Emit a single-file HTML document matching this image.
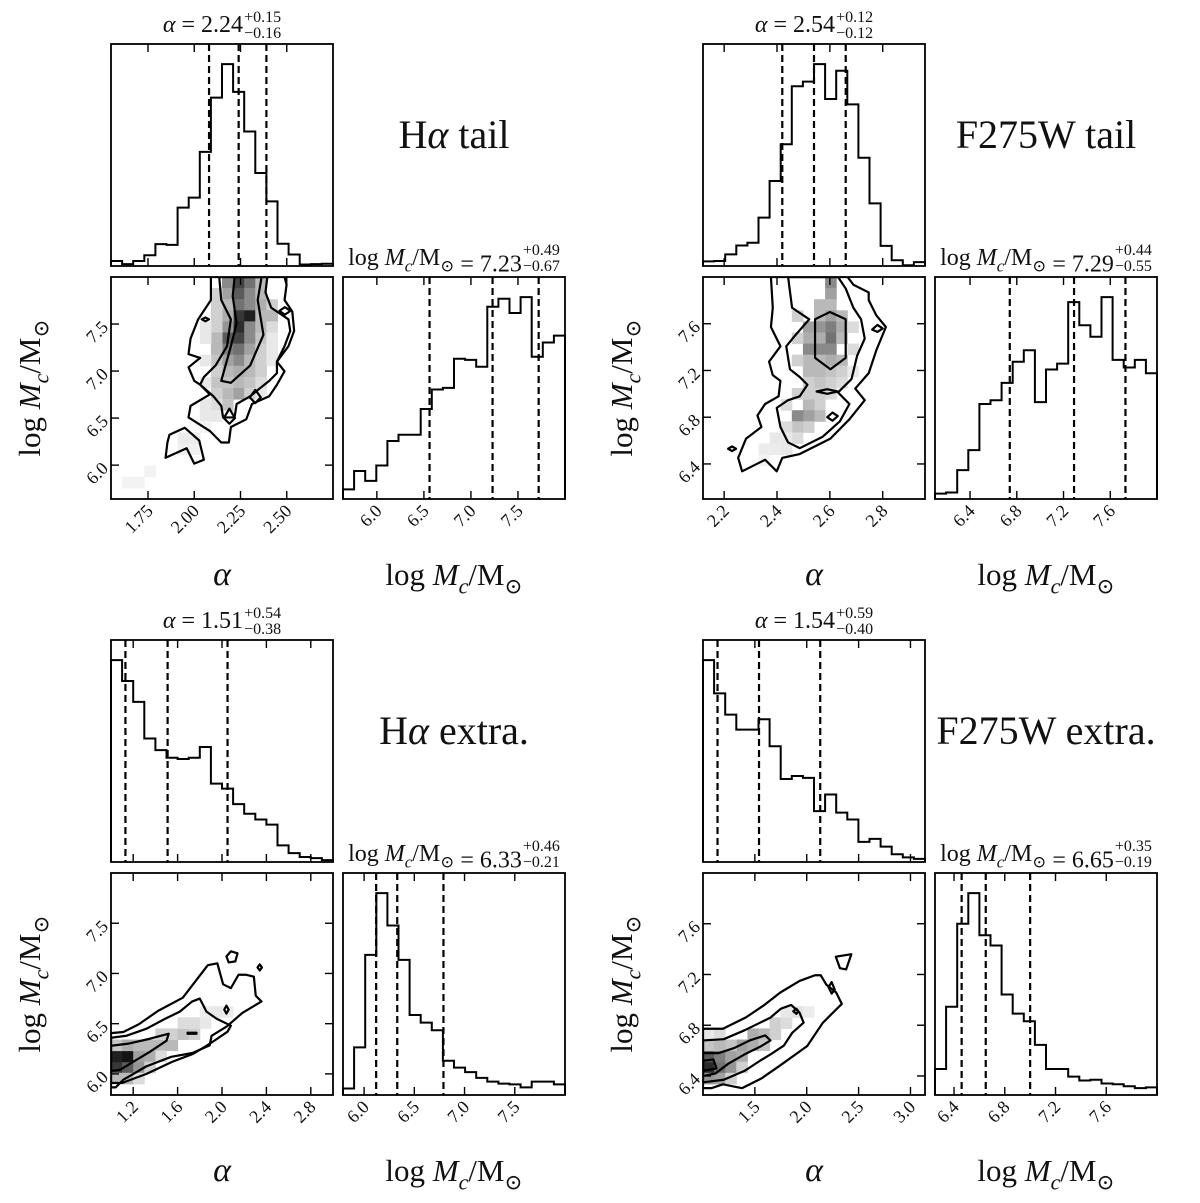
<!DOCTYPE html>
<html><head><meta charset="utf-8"><title>Corner plots</title>
<style>
html,body{margin:0;padding:0;background:#fff;}
svg{display:block;}
text{font-family:"Liberation Serif","DejaVu Serif",serif;fill:#111;}
</style></head>
<body>
<svg id="fig" width="1200" height="1203" viewBox="0 0 1200 1203"></svg>
<script>
// ---------- Data: Hα tail ----------
const tlAlphaRange=[1.55,2.75];
const tlMassRange=[5.64,8.0];
const tlAlphaTicks=[1.75,2.0,2.25,2.5];
const tlAlphaTickLabels=["1.75","2.00","2.25","2.50"];
const tlMassTicks=[6.0,6.5,7.0,7.5];
const tlMassTickLabels=["6.0","6.5","7.0","7.5"];
const tlAlphaHist=[13,5,13,28,57,55,152,178,297,438,525,453,350,242,168,58,30,4,5,6];
const tlMassHist=[25,73,47,87,151,167,167,234,285,289,365,362,344,500,521,484,525,370,407,425];
const tlAlphaQ=[2.08,2.24,2.39];
const tlMassQ=[6.56,7.23,7.72];
const tlCells=[[11,19,0.8],[11,18,0.7],[11,17,0.6],[11,16,0.85],[11,15,0.9],[11,14,0.8],[11,13,0.6],[11,12,0.5],[11,11,0.35],[11,10,0.3],[11,9,0.4],
[12,19,0.6],[12,18,0.5],[12,17,0.5],[12,16,0.95],[12,15,0.5],[12,14,0.5],[12,13,0.4],[12,12,0.3],[12,11,0.3],[12,10,0.25],[12,9,0.2],
[10,19,0.5],[10,18,0.4],[10,17,0.3],[10,16,0.35],[10,15,0.45],[10,14,0.7],[10,13,0.55],[10,12,0.4],[10,11,0.3],[10,10,0.25],[10,9,0.3],[10,8,0.25],
[9,18,0.2],[9,17,0.2],[9,16,0.2],[9,15,0.2],[9,14,0.3],[9,13,0.3],[9,12,0.25],[9,11,0.2],[9,10,0.25],[9,9,0.2],[9,8,0.15],[9,7,0.1],
[13,19,0.3],[13,18,0.3],[13,17,0.35],[13,16,0.3],[13,15,0.3],[13,14,0.25],[13,13,0.2],[13,12,0.2],[13,11,0.2],[13,10,0.15],[13,9,0.1],
[14,17,0.2],[14,16,0.3],[14,15,0.15],[14,14,0.1],[14,13,0.1],[14,12,0.1],
[8,15,0.1],[8,14,0.1],[8,12,0.1],[8,10,0.1],[8,8,0.1],[8,7,0.1],[8,6,0.05],[7,5,0.08],[6,4,0.06],[7,4,0.06],[6,5,0.08],[1,1,0.05],[2,1,0.05],[3,2,0.05]];
const tlContours=[
[[2.09,8.0],[2.09,7.755],[2.021,7.55],[1.98,7.345],[1.969,7.18],[2.032,7.14],[1.969,7.04],[2.0,6.896],[2.032,6.855],[2.084,6.752],[1.98,6.63],[1.969,6.507],[2.084,6.364],[2.146,6.241],[2.187,6.241],[2.198,6.405],[2.281,6.487],[2.312,6.65],[2.405,6.732],[2.447,6.855],[2.488,6.998],[2.447,7.1],[2.509,7.264],[2.54,7.427],[2.53,7.632],[2.488,7.755],[2.499,7.918],[2.488,8.0]],
[[2.135,8.0],[2.146,7.755],[2.198,7.55],[2.177,7.264],[2.115,7.059],[2.052,6.936],[2.032,6.855],[2.104,6.732],[2.146,6.63],[2.156,6.507],[2.218,6.507],[2.229,6.65],[2.302,6.732],[2.353,6.814],[2.405,6.896],[2.447,6.978],[2.447,7.1],[2.488,7.264],[2.519,7.427],[2.509,7.55],[2.416,7.673],[2.385,7.837],[2.395,8.0]],
[[2.218,8.0],[2.208,7.796],[2.229,7.509],[2.198,7.264],[2.146,6.896],[2.198,6.875],[2.302,7.059],[2.374,7.386],[2.343,7.755],[2.364,8.0]],
[[1.855,6.241],[1.845,6.078],[1.959,6.18],[2.0,6.016],[2.052,6.057],[2.027,6.262],[1.949,6.397],[1.866,6.323]],
[[2.04,7.55],[2.06,7.57],[2.08,7.55],[2.06,7.53]],
[[2.46,7.64],[2.49,7.68],[2.52,7.64],[2.49,7.60]],
[[2.30,6.72],[2.33,6.80],[2.36,6.72],[2.33,6.66]],
[[2.16,6.50],[2.19,6.60],[2.22,6.50],[2.19,6.44]]];

// ---------- Data: F275W tail ----------
const trAlphaRange=[2.12,2.96];
const trMassRange=[6.10,8.0];
const trAlphaTicks=[2.2,2.4,2.6,2.8];
const trAlphaTickLabels=["2.2","2.4","2.6","2.8"];
const trMassTicks=[6.4,6.8,7.2,7.6];
const trMassTickLabels=["6.4","6.8","7.2","7.6"];
const trAlphaHist=[12,13,30,53,60,125,220,315,465,477,522,432,505,418,280,162,52,15,2,10];
const trMassHist=[14,17,75,127,247,257,302,357,387,252,337,352,512,452,422,525,362,342,362,327];
const trAlphaQ=[2.42,2.54,2.66];
const trMassQ=[6.74,7.29,7.73];
const trCells=[[11,19,0.5],[11,18,0.4],[11,17,0.3],[11,16,0.4],[11,15,0.55],[11,14,0.6],[11,13,0.5],[11,12,0.35],[11,11,0.25],[11,10,0.2],
[10,17,0.3],[10,16,0.3],[10,15,0.45],[10,14,0.35],[10,13,0.5],[10,12,0.3],[10,11,0.3],[10,10,0.25],[10,8,0.2],[10,7,0.3],
[9,15,0.4],[9,14,0.35],[9,13,0.5],[9,12,0.3],[9,11,0.3],[9,10,0.2],[9,8,0.3],[9,7,0.4],[9,6,0.2],
[8,16,0.2],[8,14,0.2],[8,12,0.2],[8,9,0.2],[8,7,0.5],[8,6,0.25],[8,5,0.15],
[12,16,0.3],[12,15,0.35],[12,14,0.3],[12,12,0.3],[12,11,0.2],[12,10,0.15],[13,15,0.15],[13,13,0.15],[13,11,0.1],
[7,8,0.15],[7,6,0.15],[7,5,0.1],[7,4,0.1],[6,5,0.1],[6,4,0.08],[5,4,0.08],[5,3,0.05],[10,9,0.2],[9,9,0.2],[11,9,0.15]];
const trContours=[
[[2.377,8.0],[2.384,7.737],[2.377,7.572],[2.413,7.407],[2.37,7.276],[2.384,7.16],[2.413,7.111],[2.406,6.979],[2.355,6.913],[2.326,6.815],[2.341,6.716],[2.283,6.617],[2.253,6.452],[2.268,6.337],[2.355,6.436],[2.399,6.337],[2.42,6.452],[2.486,6.485],[2.602,6.617],[2.674,6.782],[2.732,6.946],[2.696,7.045],[2.747,7.177],[2.776,7.374],[2.812,7.572],[2.776,7.671],[2.747,7.802],[2.747,7.868],[2.689,7.934],[2.667,8.0]],
[[2.442,8.0],[2.457,7.737],[2.522,7.638],[2.471,7.506],[2.435,7.407],[2.449,7.21],[2.486,7.144],[2.515,7.078],[2.486,6.979],[2.442,6.946],[2.399,6.88],[2.413,6.716],[2.442,6.584],[2.486,6.535],[2.573,6.633],[2.638,6.765],[2.674,6.913],[2.631,7.012],[2.682,7.127],[2.703,7.325],[2.732,7.473],[2.718,7.638],[2.689,7.737],[2.66,7.901],[2.631,8.0]],
[[2.544,7.638],[2.544,7.308],[2.602,7.21],[2.66,7.308],[2.66,7.638],[2.60,7.70]],
[[2.55,7.02],[2.59,7.04],[2.63,7.02],[2.59,7.00]],
[[2.215,6.53],[2.23,6.55],[2.245,6.53],[2.23,6.51]],
[[2.76,7.55],[2.78,7.59],[2.80,7.56],[2.78,7.53]],
[[2.59,6.80],[2.61,6.84],[2.63,6.81],[2.61,6.77]]];

// ---------- Data: Hα extra. ----------
const blAlphaRange=[1.0,3.0];
const blMassRange=[5.79,8.0];
const blAlphaTicks=[1.2,1.6,2.0,2.4,2.8];
const blAlphaTickLabels=["1.2","1.6","2.0","2.4","2.8"];
const blMassTicks=[6.0,6.5,7.0,7.5];
const blMassTickLabels=["6.0","6.5","7.0","7.5"];
const blAlphaHist=[523,469,415,320,290,270,267,270,298,203,190,150,125,110,97,43,23,13,10,5];
const blMassHist=[17,125,368,530,445,355,210,190,170,90,72,60,45,35,30,28,20,35,35,28];
const blAlphaQ=[1.13,1.51,2.05];
const blMassQ=[6.12,6.33,6.79];
const blCells=[[0,2,0.85],[1,2,0.7],[0,3,0.95],[1,3,1.0],[0,1,0.3],[1,1,0.3],[2,2,0.45],[2,3,0.4],[0,4,0.25],[1,4,0.35],[2,4,0.3],[3,3,0.35],[3,4,0.3],[4,4,0.3],[5,4,0.3],[4,5,0.2],[5,5,0.2],[6,5,0.25],[7,5,0.2],[6,6,0.15],[7,6,0.15],[8,6,0.1],[9,7,0.1],[3,2,0.2],[4,3,0.15],[2,1,0.15],[10,7,0.08],[8,7,0.08]];
const blContours=[
[[1.0,6.406],[1.111,6.417],[1.249,6.493],[1.422,6.626],[1.647,6.759],[1.872,7.082],[1.958,7.101],[2.01,6.892],[2.08,6.854],[2.149,6.987],[2.218,6.987],[2.287,6.968],[2.304,6.778],[2.356,6.721],[2.183,6.607],[2.045,6.474],[1.906,6.379],[1.889,6.284],[1.734,6.208],[1.543,6.17],[1.318,6.075],[1.111,5.942],[1.042,5.866],[1.0,5.866]],
[[1.0,6.36],[1.14,6.38],[1.32,6.45],[1.49,6.55],[1.62,6.62],[1.73,6.72],[1.80,6.75],[1.86,6.62],[1.95,6.55],[2.08,6.48],[2.05,6.42],[1.93,6.33],[1.86,6.28],[1.74,6.2],[1.55,6.12],[1.32,6.0],[1.1,5.91],[1.0,5.91]],
[[1.0,6.28],[1.15,6.3],[1.35,6.35],[1.52,6.4],[1.5,6.33],[1.35,6.22],[1.2,6.12],[1.08,6.04],[1.0,6.03]],
[[2.04,7.17],[2.08,7.22],[2.14,7.20],[2.12,7.12],[2.06,7.11]],
[[2.02,6.64],[2.04,6.68],[2.06,6.64],[2.04,6.60]],
[[2.32,7.06],[2.34,7.09],[2.36,7.06],[2.34,7.03]],
[[1.69,6.41],[1.77,6.41],[1.77,6.40],[1.69,6.40]]];

// ---------- Data: F275W extra. ----------
const brAlphaRange=[1.0,3.14];
const brMassRange=[6.25,8.0];
const brAlphaTicks=[1.5,2.0,2.5,3.0];
const brAlphaTickLabels=["1.5","2.0","2.5","3.0"];
const brMassTicks=[6.4,6.8,7.2,7.6];
const brMassTickLabels=["6.4","6.8","7.2","7.6"];
const brAlphaHist=[523,437,382,343,343,370,300,215,223,218,132,175,128,110,52,60,40,20,12,8];
const brMassHist=[68,231,448,528,418,391,263,213,193,131,68,68,48,38,40,30,28,23,18,20];
const brAlphaQ=[1.14,1.54,2.13];
const brMassQ=[6.46,6.65,7.00];
const brCells=[[0,2,0.9],[1,2,0.6],[0,3,0.7],[1,3,0.55],[0,1,0.45],[1,1,0.4],[2,2,0.45],[2,3,0.4],[3,3,0.35],[3,4,0.4],[4,4,0.35],[4,5,0.35],[5,5,0.3],[5,4,0.25],[2,4,0.25],[0,4,0.25],[1,4,0.3],[6,5,0.2],[6,6,0.2],[7,6,0.15],[8,7,0.12],[7,7,0.1],[9,7,0.08],[2,1,0.2],[3,2,0.2],[0,5,0.1],[1,5,0.15]];
const brContours=[
[[1.0,6.772],[1.192,6.772],[1.414,6.862],[1.58,6.953],[1.747,7.059],[1.931,7.149],[2.079,7.194],[2.135,7.194],[2.19,7.119],[2.283,7.059],[2.338,6.968],[2.227,6.878],[2.153,6.817],[2.005,6.636],[1.747,6.485],[1.562,6.38],[1.377,6.304],[1.192,6.334],[1.081,6.304],[1.0,6.304]],
[[1.0,6.68],[1.2,6.69],[1.4,6.76],[1.55,6.82],[1.65,6.86],[1.75,6.93],[1.85,6.96],[1.93,6.9],[1.97,6.82],[1.86,6.74],[1.78,6.64],[1.65,6.57],[1.55,6.52],[1.4,6.44],[1.2,6.37],[1.0,6.35]],
[[1.0,6.58],[1.15,6.58],[1.3,6.62],[1.45,6.68],[1.6,6.72],[1.65,6.68],[1.55,6.63],[1.4,6.57],[1.25,6.5],[1.12,6.42],[1.0,6.40]],
[[1.0,6.52],[1.1,6.53],[1.13,6.46],[1.0,6.44]],
[[2.28,7.34],[2.43,7.36],[2.38,7.24],[2.32,7.25]],
[[2.21,7.10],[2.24,7.14],[2.27,7.08],[2.24,7.05]],
[[1.87,6.91],[1.90,6.93],[1.92,6.91],[1.90,6.89]]];

// ---------- Rendering ----------
const NS='http://www.w3.org/2000/svg';
const svg=document.getElementById('fig');
function mk(tag,parent){const e=document.createElementNS(NS,tag);parent.appendChild(e);return e;}
function set(e,a){for(const k in a)e.setAttribute(k,a[k]);return e;}
const BOX=222, H1X=111, H1Y=44, DY=277, H2X=343;
const TITLE=24, SCRIPT=16;

function massLabelSpans(t,size){
  const parts=[["log ",size,0,false],["M",size,0,true],["c",size*0.7,size*0.28,true],["/M",size,-size*0.28,false],["⊙",size*0.7,size*0.28,false]];
  for(const p of parts){const s=mk('tspan',t);s.textContent=p[0];set(s,{'font-size':p[1],dy:p[2]});if(p[3])s.setAttribute('font-style','italic');}
}
function titleText(g,cx,baseline,prefixBuilder,val,plus,minus,name){
  const grp=mk('g',g);
  
  
  const t=mk('text',grp);set(t,{x:0,y:baseline,'font-size':TITLE});
  prefixBuilder(t);
  const v=mk('tspan',t);v.textContent=' = '+val;set(v,{'font-size':TITLE,dy:0});
  let w=t.getComputedTextLength();
  const sup=mk('text',grp);set(sup,{x:w+1,y:baseline-10,'font-size':SCRIPT});sup.textContent=plus;
  const sub=mk('text',grp);set(sub,{x:w+1,y:baseline+6,'font-size':SCRIPT});sub.textContent=minus;
  const total=w+1+Math.max(sup.getComputedTextLength(),sub.getComputedTextLength());
  grp.setAttribute('transform','translate('+(cx-total/2)+',0)');
}
function alphaPrefix(t){const s=mk('tspan',t);s.textContent='α';s.setAttribute('font-style','italic');}
function massPrefix(t){massLabelSpans(t,TITLE);}

function ticksX(g,ticks,sc,L,T,labels){
  for(const v of ticks){const x=sc(v);
    const a=mk('line',g);set(a,{x1:x,x2:x,y1:T+BOX,y2:T+BOX-8,stroke:'#000','stroke-width':1.4});
    const b=mk('line',g);set(b,{x1:x,x2:x,y1:T,y2:T+8,stroke:'#000','stroke-width':1.4});
  }
  if(labels){ticks.forEach((v,i)=>{const x=sc(v)+6,y=T+BOX+13;
    const t=mk('text',g);set(t,{x:x,y:y,'font-size':18,'text-anchor':'end',transform:'rotate(-45 '+x+' '+y+')'});t.textContent=labels[i];
    
    });}
}
function ticksY(g,ticks,sc,L,labels){
  for(const v of ticks){const y=sc(v);
    const a=mk('line',g);set(a,{x1:L,x2:L+8,y1:y,y2:y,stroke:'#000','stroke-width':1.4});
    const b=mk('line',g);set(b,{x1:L+BOX,x2:L+BOX-8,y1:y,y2:y,stroke:'#000','stroke-width':1.4});
  }
  ticks.forEach((v,i)=>{const x=L-6,y=sc(v)+6;
    const t=mk('text',g);set(t,{x:x,y:y,'font-size':18,'text-anchor':'end',transform:'rotate(-45 '+x+' '+(y-6)+')'});t.textContent=labels[i];
    
    });
}
function hist(g,L,T,counts,range,q,name){
  const n=counts.length, mx=Math.max(...counts)*1.1;
  const sx=v=>L+(v-range[0])/(range[1]-range[0])*BOX;
  const sy=c=>T+BOX-c/mx*BOX;
  let d='M'+L+','+(T+BOX);
  counts.forEach((c,i)=>{const x0=sx(range[0]+(range[1]-range[0])*i/n),x1=sx(range[0]+(range[1]-range[0])*(i+1)/n);d+=' L'+x0+','+sy(c)+' L'+x1+','+sy(c);});
  d+=' L'+(L+BOX)+','+(T+BOX);
  const p=mk('path',g);set(p,{d:d,fill:'none',stroke:'#000','stroke-width':2});
  
  
  for(const v of q){const x=sx(v);const l=mk('line',g);set(l,{x1:x,x2:x,y1:T,y2:T+BOX,stroke:'#000','stroke-width':2.2,'stroke-dasharray':'7,4'});
    
    }
  return sx;
}
function frame(g,L,T,name){const r=mk('rect',g);set(r,{x:L,y:T,width:BOX,height:BOX,fill:'none',stroke:'#000','stroke-width':1.8});
  
  }

function panel(cfg){
  const g=mk('g',svg);g.setAttribute('transform','translate('+cfg.ox+','+cfg.oy+')');
  
  
  const xa=hist(g,H1X,H1Y,cfg.ah,cfg.ar,cfg.aq,'alpha-histogram');
  ticksX(g,cfg.at,xa,H1X,H1Y,null);
  frame(g,H1X,H1Y,'alpha-histogram-frame');
  titleText(g,H1X+BOX/2,H1Y-12,alphaPrefix,cfg.aval[0],cfg.aval[1],cfg.aval[2],'alpha-title');
  const ym=v=>DY+BOX-(v-cfg.mr[0])/(cfg.mr[1]-cfg.mr[0])*BOX;
  const cid='clip'+cfg.name;
  const cp=mk('clipPath',g);cp.setAttribute('id',cid);set(mk('rect',cp),{x:H1X,y:DY,width:BOX,height:BOX});
  const d2=mk('g',g);d2.setAttribute('clip-path','url(#'+cid+')');
  
  
  const nb=20, bw=(cfg.ar[1]-cfg.ar[0])/nb, bh=(cfg.mr[1]-cfg.mr[0])/nb;
  for(const c of cfg.cells){
    const x0=xa(cfg.ar[0]+c[0]*bw),x1=xa(cfg.ar[0]+(c[0]+1)*bw),y0=ym(cfg.mr[0]+(c[1]+1)*bh),y1=ym(cfg.mr[0]+c[1]*bh);
    const gv=Math.round(255*(1-c[2]*0.92));
    const r=mk('rect',d2);set(r,{x:x0,y:y0,width:x1-x0+0.5,height:y1-y0+0.5,fill:'rgb('+gv+','+gv+','+gv+')'});
    
    
  }
  for(const poly of cfg.cont){
    const pts=poly.map(p=>xa(p[0])+','+ym(p[1])).join(' ');
    const pg=mk('polygon',d2);set(pg,{points:pts,fill:'none',stroke:'#000','stroke-width':2.2,'stroke-linejoin':'round'});
    
    
  }
  ticksX(g,cfg.at,xa,H1X,DY,cfg.atl);
  ticksY(g,cfg.mt,ym,H1X,cfg.mtl);
  frame(g,H1X,DY,'joint-frame');
  const xm=hist(g,H2X,DY,cfg.mh,cfg.mr,cfg.mq,'mass-histogram');
  ticksX(g,cfg.mt,xm,H2X,DY,cfg.mtl);
  frame(g,H2X,DY,'mass-histogram-frame');
  titleText(g,H2X+BOX/2,DY-12,massPrefix,cfg.mval[0],cfg.mval[1],cfg.mval[2],'mass-title');
  const xl=mk('text',g);set(xl,{x:H1X+BOX/2,y:585,'font-size':34,'text-anchor':'middle','font-style':'italic'});xl.textContent='α';
  
  
  const xl2=mk('text',g);set(xl2,{x:H2X+BOX/2,y:585,'font-size':31,'text-anchor':'middle'});massLabelSpans(xl2,31);
  
  
  const yl=mk('text',g);set(yl,{x:0,y:0,'font-size':31,'text-anchor':'middle',transform:'translate(40,'+(DY+BOX/2)+') rotate(-90)'});massLabelSpans(yl,31);
  
  
  const an=mk('text',g);set(an,{x:H2X+BOX/2,y:148,'font-size':40,'text-anchor':'middle'});
  
  
  for(const p of cfg.label){const s=mk('tspan',an);s.textContent=p[0];if(p[1])s.setAttribute('font-style','italic');}
}

panel({name:'halpha-tail',ox:0,oy:0,ar:tlAlphaRange,mr:tlMassRange,at:tlAlphaTicks,atl:tlAlphaTickLabels,mt:tlMassTicks,mtl:tlMassTickLabels,ah:tlAlphaHist,mh:tlMassHist,aq:tlAlphaQ,mq:tlMassQ,cells:tlCells,cont:tlContours,aval:['2.24','+0.15','−0.16'],mval:['7.23','+0.49','−0.67'],label:[['H',0],['α',1],[' tail',0]]});
panel({name:'f275w-tail',ox:592,oy:0,ar:trAlphaRange,mr:trMassRange,at:trAlphaTicks,atl:trAlphaTickLabels,mt:trMassTicks,mtl:trMassTickLabels,ah:trAlphaHist,mh:trMassHist,aq:trAlphaQ,mq:trMassQ,cells:trCells,cont:trContours,aval:['2.54','+0.12','−0.12'],mval:['7.29','+0.44','−0.55'],label:[['F275W tail',0]]});
panel({name:'halpha-extra',ox:0,oy:596,ar:blAlphaRange,mr:blMassRange,at:blAlphaTicks,atl:blAlphaTickLabels,mt:blMassTicks,mtl:blMassTickLabels,ah:blAlphaHist,mh:blMassHist,aq:blAlphaQ,mq:blMassQ,cells:blCells,cont:blContours,aval:['1.51','+0.54','−0.38'],mval:['6.33','+0.46','−0.21'],label:[['H',0],['α',1],[' extra.',0]]});
panel({name:'f275w-extra',ox:592,oy:596,ar:brAlphaRange,mr:brMassRange,at:brAlphaTicks,atl:brAlphaTickLabels,mt:brMassTicks,mtl:brMassTickLabels,ah:brAlphaHist,mh:brMassHist,aq:brAlphaQ,mq:brMassQ,cells:brCells,cont:brContours,aval:['1.54','+0.59','−0.40'],mval:['6.65','+0.35','−0.19'],label:[['F275W extra.',0]]});
</script>
</body></html>
